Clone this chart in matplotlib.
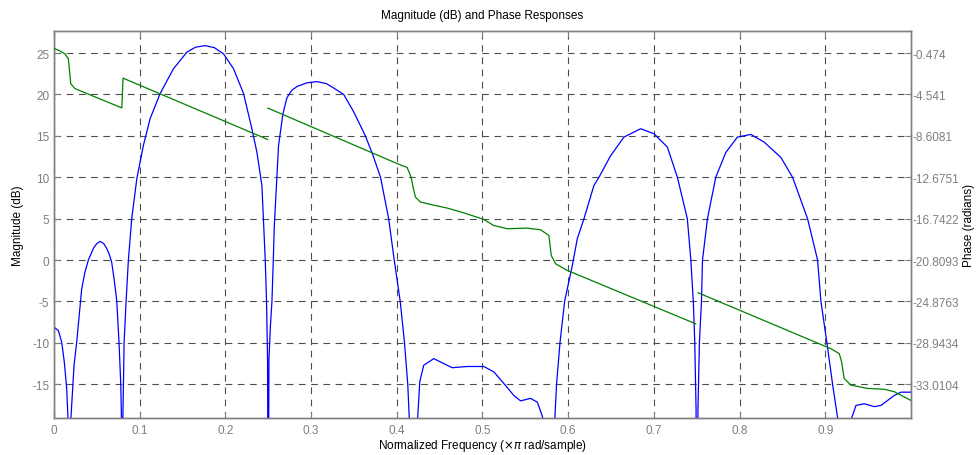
import numpy as np
import matplotlib
matplotlib.use("Agg")
import matplotlib.pyplot as plt

plt.rcParams['font.family'] = ['Liberation Sans', 'DejaVu Sans']

# Magnitude response (dB) vs normalized frequency (x pi rad/sample)
mag_freq = [0.000, 0.005, 0.009, 0.012, 0.0148, 0.0165, 0.0175, 0.0195, 0.0218, 0.0234, 0.0265,
            0.0323, 0.036, 0.0401, 0.0459, 0.050, 0.0537, 0.058, 0.0615, 0.0645, 0.0673, 0.070,
            0.0732, 0.0759, 0.0779, 0.0788,
            0.0795, 0.0803, 0.081, 0.0818, 0.0841, 0.0868, 0.0907, 0.0966, 0.1043, 0.1121,
            0.1238, 0.1394, 0.155, 0.165, 0.1764, 0.187, 0.1978, 0.2095, 0.2212, 0.2309,
            0.2368, 0.2426, 0.2465, 0.248, 0.2492, 0.2500, 0.2508, 0.2525, 0.2543, 0.2559,
            0.257, 0.262, 0.267, 0.2718, 0.2775, 0.2835, 0.295, 0.307, 0.318, 0.326, 0.338,
            0.3497, 0.3633,
            0.372, 0.381, 0.3905, 0.397, 0.404, 0.409, 0.4128, 0.4145, 0.4165, 0.4185,
            0.4215, 0.4244, 0.4268, 0.4314, 0.4431, 0.4548, 0.4646, 0.482, 0.5015, 0.5132,
            0.5249, 0.5366, 0.5444, 0.556, 0.5639, 0.5697, 0.572, 0.5755, 0.579, 0.5825,
            0.5845, 0.5864, 0.5904, 0.5958, 0.6048, 0.6106, 0.6184, 0.630, 0.6359, 0.6495,
            0.665, 0.6846, 0.7001, 0.7157, 0.7274, 0.7352, 0.739, 0.743, 0.746, 0.7477,
            0.7492, 0.7503, 0.7514, 0.7531, 0.7555, 0.7567, 0.7625, 0.7722, 0.7839, 0.7975,
            0.8131, 0.8286, 0.8481, 0.8618, 0.8793, 0.891, 0.8949, 0.9019, 0.9085, 0.9143,
            0.9165, 0.919, 0.9255, 0.931, 0.9358, 0.9455, 0.9572, 0.965, 0.9805, 0.9883,
            1.000]
mag_db = [-8.1, -8.5, -9.9, -12.3, -15.5, -19.5, -40.0, -19.5, -15.5, -12.7, -9.9,
          -3.5, -1.5, 0.0, 1.4, 2.0, 2.25, 2.0, 1.4, 0.7, -0.25, -2.2,
          -4.9, -10.0, -15.0, -19.5,
          -40.0, -19.5, -15.0, -10.0, -5.0, 0.0, 5.0, 9.8, 13.84, 17.06,
          20.1, 23.1, 25.1, 25.7, 25.9, 25.65, 24.9, 23.1, 20.1, 15.85,
          13.0, 9.0, 0.0, -5.0, -12.0, -40.0, -12.0, -8.0, -5.0, 0.0,
          4.0, 13.8, 17.6, 19.6, 20.5, 20.95, 21.4, 21.55, 21.3, 20.8, 20.0,
          17.9, 15.0,
          12.7, 10.0, 5.0, 0.0, -5.0, -10.0, -15.0, -19.0, -40.0, -40.0,
          -22.0, -19.0, -14.7, -12.7, -11.9, -12.5, -13.0, -12.85, -12.85, -13.5,
          -14.9, -16.35, -17.0, -16.7, -17.15, -18.8, -20.0, -40.0, -40.0, -22.0,
          -19.0, -15.0, -10.0, -5.0, -0.65, 2.57, 5.0, 9.0, 10.0, 12.6,
          14.85, 15.86, 15.25, 13.65, 10.0, 6.6, 5.0, 0.16, -5.0, -10.0,
          -18.0, -40.0, -18.0, -10.0, -5.0, 0.0, 5.0, 10.0, 13.0, 14.85,
          15.17, 14.25, 12.4, 10.0, 5.0, 0.0, -5.0, -10.0, -15.0, -19.0,
          -40.0, -40.0, -40.0, -19.0, -17.55, -17.35, -17.7, -17.55, -16.35, -15.95,
          -15.95]

# Phase response (radians); NaN marks the wrap breaks
ph_freq = [0.000, 0.006, 0.0128, 0.0167, 0.0185, 0.0195, 0.0245, 0.0785, 0.0792, 0.0805,
           0.2492, np.nan, 0.2496, 0.3964, 0.405, 0.412, 0.4167, 0.419, 0.4217, 0.4276,
           0.440, 0.4587, 0.475, 0.490, 0.5015, 0.513, 0.529, 0.552, 0.5678, 0.5775,
           0.5802, 0.5853, 0.599, 0.7488, np.nan, 0.7516, 0.9065, 0.9163, 0.919, 0.922,
           0.930, 0.9494, 0.9688, 0.9805, 1.000]
phase_rad = [-0.03, -0.23, -0.555, -1.043, -2.508, -3.484, -3.972, -5.843, -5.843, -2.939,
             -8.958, np.nan, -5.883, -11.186, -11.495, -11.699, -12.675, -13.651, -14.627, -15.115,
             -15.359, -15.701, -16.091, -16.498, -16.823, -17.409, -17.734, -17.669, -17.832, -18.393,
             -20.354, -21.175, -21.826, -27.072, np.nan, -24.022, -29.512, -30.000, -30.814, -32.441,
             -33.091, -33.417, -33.498, -33.742, -34.596]

x_ticks = [0, 0.1, 0.2, 0.3, 0.4, 0.5, 0.6, 0.7, 0.8, 0.9]
x_ticklabels = ['0', '0.1', '0.2', '0.3', '0.4', '0.5', '0.6', '0.7', '0.8', '0.9']
mag_ticks = [-15, -10, -5, 0, 5, 10, 15, 20, 25]
phase_ticklabels = ['-33.0104', '-28.9434', '-24.8763', '-20.8093', '-16.7422',
                    '-12.6751', '-8.6081', '-4.541', '-0.474']

mag_lim = (-19.07, 27.66)
# linear mapping between magnitude axis and phase axis (phase = a + b*mag)
b = (-0.474 - (-33.0104)) / (25 - (-15))
a = -0.474 - 25 * b
phase_lim = (a + b * mag_lim[0], a + b * mag_lim[1])
phase_ticks = [a + b * m for m in mag_ticks]

gray = '#7f7f7f'
gridc = '#4d4d4d'

fig = plt.figure(figsize=(9.79, 4.56), dpi=100)
ax = fig.add_axes([54/979, 1 - 419/456, (911-54)/979, (419-32)/456])
ax2 = ax.twinx()

ax.plot(mag_freq, mag_db, color='#0000ff', lw=0.9, zorder=3)
ax2.plot(ph_freq, phase_rad, color='#008000', lw=0.9, zorder=3)

ax.set_xlim(0, 1)
ax.set_ylim(*mag_lim)
ax2.set_ylim(*phase_lim)

ax.set_xticks(x_ticks)
ax.set_xticklabels(x_ticklabels)
ax.set_yticks(mag_ticks)
ax.set_yticklabels([str(t) for t in mag_ticks])
ax2.set_yticks(phase_ticks)
ax2.set_yticklabels(phase_ticklabels)

ax.grid(True, color=gridc, linestyle=(0, (6, 5)), linewidth=0.8)
ax.set_axisbelow(True)

for axx in (ax, ax2):
    for s in axx.spines.values():
        s.set_color(gray)
        s.set_linewidth(1.0)
    axx.tick_params(direction='in', length=4, colors=gray, labelsize=8.5, width=0.8)
    for lab in axx.get_xticklabels() + axx.get_yticklabels():
        lab.set_color(gray)
ax.tick_params(axis='both', which='both', top=True, labeltop=False)
ax.tick_params(axis='x', pad=4)
ax2.tick_params(axis='y', pad=1)

ax.set_xlabel('Normalized Frequency ($\\times\\pi$ rad/sample)', fontsize=8.5, color='black', labelpad=1)
ax.set_ylabel('Magnitude (dB)', fontsize=8.5, color='black', labelpad=6)
ax2.set_ylabel('Phase (radians)', fontsize=8.5, color='black', labelpad=3)
ax.set_title('Magnitude (dB) and Phase Responses', fontsize=8.5, color='black', pad=9)

fig.savefig('out.png', dpi=100, facecolor='white')
